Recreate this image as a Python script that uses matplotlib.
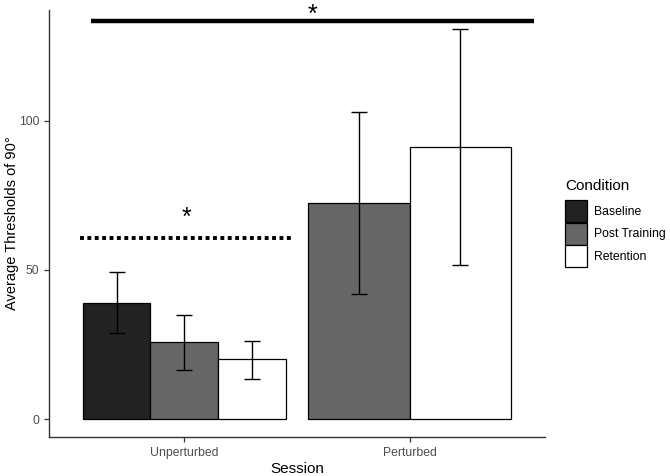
import matplotlib
matplotlib.use("Agg")
import matplotlib.pyplot as plt
import numpy as np
from matplotlib.patches import Patch

plt.rcParams['font.family'] = ['Liberation Sans', 'DejaVu Sans']

sessions = ["Unperturbed", "Perturbed"]
conditions = ["Baseline", "Post Training", "Retention"]
colors = ["#222222", "#666666", "#ffffff"]

unperturbed_means = [39.0, 25.7, 20.0]
unperturbed_low = [28.7, 16.6, 13.4]
unperturbed_high = [49.2, 34.8, 26.3]

perturbed_conditions = ["Post Training", "Retention"]
perturbed_means = [72.5, 91.0]
perturbed_low = [41.8, 51.5]
perturbed_high = [102.8, 130.8]

sig_all_y = 133.3
sig_unpert_y = 60.7

fig = plt.figure(figsize=(6.7, 4.76), dpi=100)
ax = fig.add_axes([0.0731, 0.0819, 0.740, 0.897])

def draw_group(center, conds, means, lows, highs):
    n = len(conds)
    w = 0.9 / n
    for i, (c, m, lo, hi) in enumerate(zip(conds, means, lows, highs)):
        x = center - 0.45 + w * (i + 0.5)
        col = colors[conditions.index(c)]
        ax.bar(x, m, width=w, color=col, edgecolor="black", linewidth=0.9, zorder=2)
        ax.errorbar(x, m, yerr=[[m - lo], [hi - m]], fmt="none", ecolor="black",
                    elinewidth=1.0, capsize=5.5, capthick=1.0, zorder=3)

draw_group(1, conditions, unperturbed_means, unperturbed_low, unperturbed_high)
draw_group(2, perturbed_conditions, perturbed_means, perturbed_low, perturbed_high)

# significance markers
ax.plot([0.585, 2.55], [sig_all_y, sig_all_y], color="black", linewidth=3.2, solid_capstyle="butt", zorder=4)
ax.text(1.57, sig_all_y + 2.2, "*", ha="center", va="center", fontsize=18)
ax.plot([0.536, 1.484], [sig_unpert_y, sig_unpert_y], color="black", linewidth=2.8,
        linestyle=(0, (1, 0.9)), dash_capstyle="butt", zorder=4)
ax.text(1.01, sig_unpert_y + 6.6, "*", ha="center", va="center", fontsize=18)

ax.set_xlim(0.4, 2.6)
ax.set_ylim(-6, 137)
ax.set_xticks([1, 2])
ax.set_xticklabels(sessions)
ax.set_yticks([0, 50, 100])
ax.tick_params(axis="both", colors="#333333", labelcolor="#4d4d4d", labelsize=8.8, length=3.5, width=0.9)
for s in ["top", "right"]:
    ax.spines[s].set_visible(False)
for s in ["left", "bottom"]:
    ax.spines[s].set_color("#333333")
    ax.spines[s].set_linewidth(1.0)
ax.set_xlabel("Session", fontsize=11, labelpad=2)
ax.set_ylabel("Average Thresholds of 90°", fontsize=10.5, labelpad=0)

# legend
fig.text(565 / 670, 1 - 186 / 476, "Condition", ha="left", va="center", fontsize=11)
handles = [Patch(facecolor=c, edgecolor="black", linewidth=0.9, label=l) for c, l in zip(colors, conditions)]
leg = fig.legend(handles=handles, loc="upper left", bbox_to_anchor=(565 / 670, 1 - 200 / 476),
                 frameon=False, fontsize=8.8, handlelength=1.8, handleheight=2.39,
                 handletextpad=0.6, labelspacing=0.05, borderaxespad=0, borderpad=0)

fig.savefig("out.png", dpi=100)
